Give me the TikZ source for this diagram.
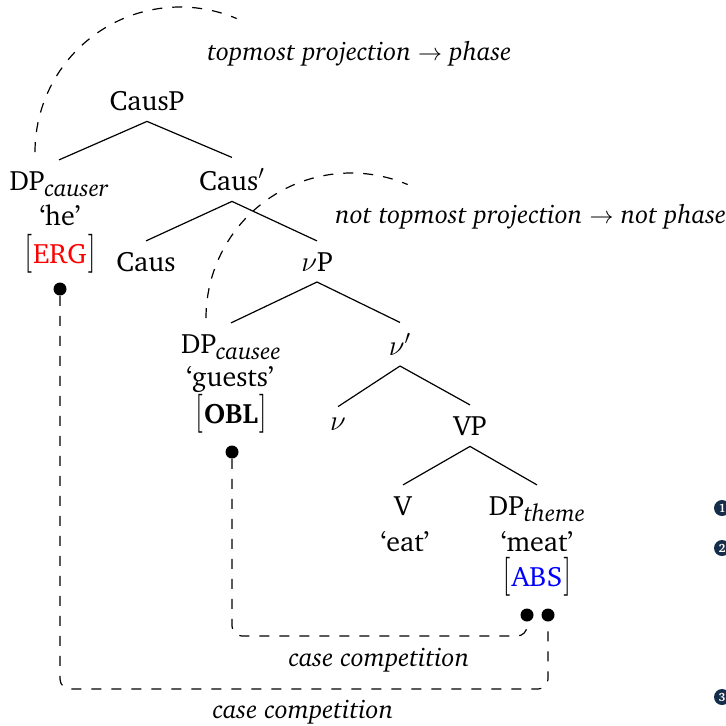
\documentclass[tikz,border=0pt]{standalone}
\usepackage[T1]{fontenc}
\usepackage{charter}
\usepackage{graphicx}
\usetikzlibrary{calc}
\definecolor{navy}{RGB}{20,45,75}
\newcommand\mysub[1]{\raisebox{-3pt}{\fontsize{12}{13}\selectfont\itshape #1}}
\newcommand\casebox[1]{\scalebox{1}[1.35]{$[$}\kern0.5pt#1\kern0.5pt\scalebox{1}[1.35]{$]$}}
\begin{document}
\begin{tikzpicture}[x=0.5pt,y=-0.5pt,
  t/.style={inner sep=0pt, outer sep=5.5pt, anchor=base, font=\fontsize{14}{16}\selectfont},
  lbl/.style={inner sep=0pt, anchor=base, font=\fontsize{13}{15}\selectfont\itshape},
  br/.style={line width=0.6pt},
  dl/.style={dash pattern=on 5pt off 5pt, line width=0.6pt},
  dot/.style={circle, fill=black, inner sep=0pt, minimum size=6.5pt},
  num/.style={circle, fill=navy, text=white, inner sep=0pt, minimum size=8pt, font=\fontsize{6}{6}\selectfont\bfseries}]
\useasboundingbox (0,0) rectangle (726,725);
% tree nodes
\node[t] (causp) at (147,110) {CausP};
\node[t] (dpc) at (59,190) {DP\mysub{causer}};
\node[t] (he) at (60,225) {`he'};
\node[t] (erg) at (60,263) {\casebox{\textcolor{red}{ERG}}};
\node[t] (causbar) at (232,190) {Caus$'$};
\node[t] (caus) at (146,271) {Caus};
\node[t] (vp) at (317,271) {$\nu$P};
\node[t] (dpe) at (231,353) {DP\mysub{causee}};
\node[t] (guests) at (230,386) {`guests'};
\node[t] (obl) at (231,423) {\casebox{\textbf{OBL}}};
\node[t] (vbar) at (400,355) {$\nu'$};
\node[t] (v) at (338,430) {$\nu$};
\node[t] (VP) at (470,435) {VP};
\node[t] (V) at (403,515) {V};
\node[t] (eat) at (405,551) {`eat'};
\node[t] (dpt) at (537,515) {DP\mysub{theme}};
\node[t] (meat) at (537,551) {`meat'};
\node[t] (abs) at (537,586) {\casebox{\textcolor{blue}{ABS}}};
% branches
\draw[br] (causp.south) -- (dpc.north);
\draw[br] (causp.south) -- (causbar.north);
\draw[br] (causbar.south) -- (caus.north);
\draw[br] (causbar.south) -- (vp.north);
\draw[br] (vp.south) -- (dpe.north);
\draw[br] (vp.south) -- (vbar.north);
\draw[br] (vbar.south) -- (v.north);
\draw[br] (vbar.south) -- (VP.north);
\draw[br] (VP.south) -- (V.north);
\draw[br] (VP.south) -- (dpt.north);
% phase arcs
\coordinate (a1) at (35,152);
\coordinate (a2) at (206,318);
\draw[dl] (a1) arc[start angle=180, end angle=67, radius=72.5pt];
\draw[dl] (a2) arc[start angle=180, end angle=67, radius=72.5pt];
\node[lbl, anchor=base west] (l1) at (207,60) {topmost projection $\rightarrow$ phase};
\node[lbl, anchor=base west] (l2) at (335,223) {not topmost projection $\rightarrow$ not phase};
% case competition
\node[dot] (ergdot) at (60,289) {};
\node[dot] (obldot) at (232,452) {};
\node[dot] (absL) at (527,615) {};
\node[dot] (absR) at (548,615) {};
\coordinate (lo1) at (0,636);
\coordinate (lo2) at (0,689);
\draw[dl, rounded corners=5pt] (obldot.south) -- (obldot.south |- lo1) -- (absL.south |- lo1) -- (absL.south);
\draw[dl, rounded corners=5pt] (ergdot.south) -- (ergdot.south |- lo2) -- (absR.south |- lo2) -- (absR.south);
\node[lbl] (c1) at (379,666) {case competition};
\node[lbl] (c2) at (303,718) {case competition};
% numbered markers at right edge
\node[num] (n1) at (722,508) {1};
\node[num] (n2) at (722,548) {2};
\node[num] (n3) at (722,697) {3};
\end{tikzpicture}
\end{document}
